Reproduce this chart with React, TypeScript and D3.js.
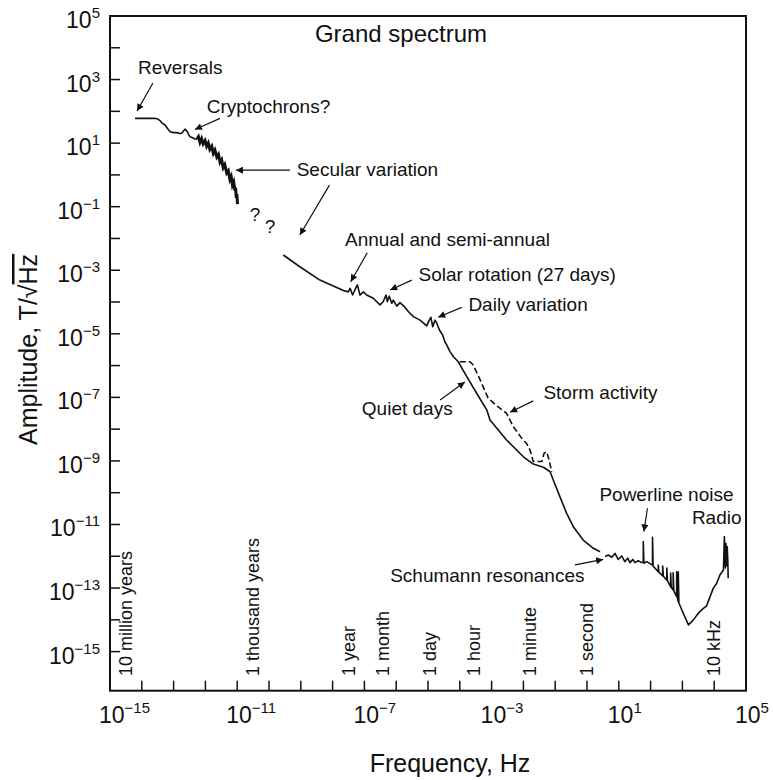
import React from "react";
import * as d3 from "d3";

// ---- data: [log10 frequency (Hz), log10 amplitude (T/sqrt(Hz))] ----
const paleoThin: [number, number][] = [
  [-14.21, 1.78], [-13.59, 1.78], [-13.5, 1.76], [-13.43, 1.71], [-13.35, 1.62], [-13.27, 1.57],
  [-13.19, 1.46], [-13.11, 1.36], [-13.0, 1.33], [-12.9, 1.33], [-12.8, 1.3], [-12.75, 1.31],
  [-12.69, 1.38], [-12.64, 1.44], [-12.6, 1.4], [-12.57, 1.36], [-12.52, 1.26], [-12.48, 1.2],
  [-12.4, 1.17], [-12.33, 1.13], [-12.27, 1.12],
];
const secularThick: [number, number][] = [
  [-12.27, 1.12], [-12.22, 1.2], [-12.17, 1.02], [-12.12, 1.14], [-12.07, 0.98], [-12.01, 1.08],
  [-11.96, 0.9], [-11.91, 1.0], [-11.86, 0.8], [-11.8, 0.9], [-11.75, 0.68], [-11.7, 0.78],
  [-11.64, 0.56], [-11.59, 0.64], [-11.54, 0.4], [-11.49, 0.48], [-11.44, 0.23], [-11.39, 0.32],
  [-11.33, 0.06], [-11.28, 0.13], [-11.23, -0.14], [-11.19, -0.05], [-11.15, -0.32], [-11.11, -0.22],
  [-11.07, -0.5], [-11.05, -0.4], [-11.03, -0.72], [-11.01, -0.6], [-10.99, -0.92],
];
const observatory: [number, number][] = [
  [-9.55, -2.52], [-9.03, -2.89], [-8.4, -3.31], [-7.66, -3.64], [-7.51, -3.68], [-7.45, -3.57],
  [-7.37, -3.78], [-7.3, -3.62], [-7.22, -3.46], [-7.14, -3.78], [-7.03, -3.68], [-6.93, -3.78],
  [-6.72, -3.88], [-6.51, -4.09], [-6.41, -3.99], [-6.32, -3.78], [-6.28, -3.99], [-6.22, -3.81],
  [-6.14, -4.04], [-6.09, -3.94], [-5.98, -4.13], [-5.88, -4.02], [-5.72, -4.17], [-5.62, -4.3],
  [-5.46, -4.46], [-5.25, -4.57], [-5.04, -4.75], [-4.96, -4.57], [-4.91, -4.48], [-4.85, -4.78],
  [-4.78, -4.57], [-4.73, -4.65], [-4.64, -4.88], [-4.54, -5.04], [-4.47, -5.25], [-4.41, -5.35],
  [-4.31, -5.56], [-4.2, -5.72], [-4.05, -5.88], [-3.78, -6.35], [-3.47, -6.87], [-3.15, -7.4],
  [-3.05, -7.71], [-2.53, -8.34], [-2.0, -8.87], [-1.69, -9.1], [-1.37, -9.2], [-1.16, -9.34],
  [-1.06, -9.6], [-0.85, -10.13], [-0.64, -10.65], [-0.43, -11.07], [-0.12, -11.49], [0.2, -11.75],
  [0.41, -11.86],
];
const storm: [number, number][] = [
  [-4.0, -5.88], [-3.68, -5.88], [-3.58, -5.98], [-3.36, -6.45], [-3.11, -7.02], [-2.83, -7.27],
  [-2.53, -7.5], [-2.32, -7.92], [-2.05, -8.29], [-1.9, -8.45], [-1.79, -8.66], [-1.69, -9.02],
  [-1.42, -9.02], [-1.35, -8.76], [-1.27, -8.71], [-1.19, -8.97], [-1.11, -9.34],
];
const highFreq: [number, number][] = [
  [0.57, -12.01], [0.67, -11.96], [0.78, -12.03], [0.88, -11.91], [0.98, -12.1], [1.09, -11.99],
  [1.19, -12.17], [1.28, -12.06], [1.35, -12.2], [1.44, -12.1], [1.51, -12.2], [1.61, -12.14],
  [1.72, -12.2], [1.77, -12.18], [1.77, -11.54], [1.79, -12.22], [1.88, -12.17], [1.98, -12.23],
  [2.06, -12.28], [2.06, -11.4], [2.08, -12.31], [2.16, -12.4], [2.24, -12.49], [2.24, -12.28],
  [2.26, -12.5], [2.3, -12.54], [2.38, -12.62], [2.38, -12.31], [2.4, -12.63], [2.51, -12.75],
  [2.51, -12.37], [2.53, -12.77], [2.63, -12.96], [2.63, -12.53], [2.65, -12.98], [2.71, -13.06],
  [2.71, -12.52], [2.73, -13.09], [2.82, -13.27], [2.82, -12.49], [2.84, -13.3], [2.87, -13.43],
  [2.87, -12.49], [2.89, -13.47], [3.03, -13.8], [3.19, -14.16], [3.34, -14.01], [3.45, -13.86],
  [3.55, -13.74], [3.66, -13.64], [3.76, -13.56], [3.87, -13.27], [3.97, -13.01], [4.08, -12.85],
  [4.18, -12.59], [4.29, -12.43], [4.32, -11.38], [4.35, -12.37], [4.37, -11.6], [4.39, -12.3],
  [4.41, -11.7], [4.43, -12.2], [4.44, -12.69],
];

const xTickExps = d3.range(-15, 6, 1);
const xLabelExps = [-15, -11, -7, -3, 1, 5];
const yTickExps = d3.range(-15, 6, 1);
const yLabelExps = [5, 3, 1, -1, -3, -5, -7, -9, -11, -13, -15];

const periodNames = ["10 million years", "1 thousand years", "1 year", "1 month", "1 day", "1 hour", "1 minute", "1 second", "10 kHz"];
const periodLogF = [-14.5, -10.5, -7.5, -6.41, -4.94, -3.56, -1.78, 0, 4];

// annotations: text, text anchor point [logF, logA], anchor, arrows [[from],[to]]
const annotations: { text: string; at: [number, number]; anchor?: string; arrows: [number, number][][] }[] = [
  { text: "Reversals", at: [-14.12, 3.17], arrows: [[[-13.65, 2.89], [-14.15, 2.01]]] },
  { text: "Cryptochrons?", at: [-11.96, 1.95], arrows: [[[-11.54, 1.78], [-12.33, 1.43]]] },
  { text: "Secular variation", at: [-9.13, -0.03], arrows: [[[-9.34, 0.15], [-11.04, 0.15]], [[-8.1, -0.32], [-9.03, -1.89]]] },
  { text: "Annual and semi-annual", at: [-7.61, -2.24], arrows: [[[-6.91, -2.45], [-7.43, -3.36]]] },
  { text: "Solar rotation (27 days)", at: [-5.3, -3.34], arrows: [[[-5.51, -3.31], [-6.19, -3.62]]] },
  { text: "Daily variation", at: [-3.73, -4.27], arrows: [[[-3.94, -4.17], [-4.68, -4.48]]] },
  { text: "Quiet days", at: [-7.08, -7.56], arrows: [[[-4.62, -7.08], [-3.84, -6.52]]] },
  { text: "Storm activity", at: [-1.37, -7.05], arrows: [[[-1.69, -7.11], [-2.42, -7.47]]] },
  { text: "Schumann resonances", at: [-6.19, -12.81], arrows: [[[-0.38, -12.27], [0.51, -12.1]]] },
  { text: "Powerline noise", at: [0.39, -10.25], arrows: [[[1.9, -10.49], [1.79, -11.22]]] },
  { text: "Radio", at: [4.86, -10.98], anchor: "end", arrows: [] },
  { text: "?", at: [-10.44, -1.45], anchor: "middle", arrows: [] },
  { text: "?", at: [-9.97, -1.83], anchor: "middle", arrows: [] },
];

const FONT = "'Liberation Sans', Arial, Helvetica, sans-serif";

export default function App() {
  const W = 773, H = 780;
  const left = 110, right = 746, top = 16, bottom = 690.7;
  const x = d3.scaleLog().domain([1e-15, 1e5]).range([left, right]);
  const y = d3.scaleLog().domain([Math.pow(10, -16.23), 1e5]).range([bottom, top]);
  const px = (lf: number) => x(Math.pow(10, lf));
  const py = (la: number) => y(Math.pow(10, la));
  const line = d3.line<[number, number]>().x((d) => px(d[0])).y((d) => py(d[1]));

  return (
    <svg width={W} height={H} style={{ position: "absolute", left: 0, top: 0, background: "#fff" }} fontFamily={FONT}>
      <defs>
        <marker id="ah" viewBox="0 0 10 10" refX="10" refY="5" markerWidth="9" markerHeight="7" markerUnits="userSpaceOnUse" orient="auto">
          <path d="M0,0 L10,5 L0,10 z" fill="#111" />
        </marker>
      </defs>
      {/* ticks */}
      {xTickExps.map((e) => (
        <line key={"xt" + e} x1={px(e)} x2={px(e)} y1={bottom} y2={bottom - 10} stroke="#111" strokeWidth={1.5} />
      ))}
      {yTickExps.map((e) => (
        <line key={"yt" + e} x1={left} x2={left + 10} y1={py(e)} y2={py(e)} stroke="#111" strokeWidth={1.5} />
      ))}
      <rect x={left} y={top} width={right - left} height={bottom - top} fill="none" stroke="#111" strokeWidth={2} />
      {/* tick labels */}
      {xLabelExps.map((e) => (
        <text key={"xl" + e} x={px(e) - 11} y={723} fontSize={23} fill="#111">
          10<tspan fontSize={15} dy={-10}>{e < 0 ? "\u2212" + -e : e}</tspan>
        </text>
      ))}
      {yLabelExps.map((e) => (
        <text key={"yl" + e} x={100} y={py(e) + 12} fontSize={23} fill="#111" textAnchor="end">
          10<tspan fontSize={15} dy={-10}>{e < 0 ? "\u2212" + -e : e}</tspan>
        </text>
      ))}
      {/* axis titles */}
      <text x={450} y={772} fontSize={25} textAnchor="middle" fill="#111">Frequency, Hz</text>
      <text transform={`translate(37,445) rotate(-90)`} fontSize={25} fill="#111">
        Amplitude, T/{"\u221A"}<tspan textDecoration="overline" style={{ textDecoration: "overline" }}>Hz</tspan>
      </text>
      <text x={401} y={42} fontSize={24} textAnchor="middle" fill="#111">Grand spectrum</text>
      {/* period labels */}
      {periodNames.map((n, i) => (
        <text key={n} transform={`translate(${px(periodLogF[i])},676) rotate(-90)`} fontSize={18} dominantBaseline="central" fill="#111">
          {n}
        </text>
      ))}
      {/* curves */}
      <path d={line(paleoThin) || ""} fill="none" stroke="#111" strokeWidth={1.6} strokeLinejoin="round" />
      <path d={line(secularThick) || ""} fill="none" stroke="#111" strokeWidth={3} strokeLinejoin="miter" />
      <path d={line(observatory) || ""} fill="none" stroke="#111" strokeWidth={1.6} strokeLinejoin="round" />
      <path d={line(storm) || ""} fill="none" stroke="#111" strokeWidth={1.6} strokeDasharray="6,3" />
      <path d={line(highFreq) || ""} fill="none" stroke="#111" strokeWidth={1.6} strokeLinejoin="round" />
      {/* annotations */}
      {annotations.map((a, i) => (
        <g key={"an" + i}>
          <text x={px(a.at[0])} y={py(a.at[1])} fontSize={19} textAnchor={a.anchor || "start"} fill="#111">{a.text}</text>
          {a.arrows.map((ar, j) => (
            <line key={j} x1={px(ar[0][0])} y1={py(ar[0][1])} x2={px(ar[1][0])} y2={py(ar[1][1])} stroke="#111" strokeWidth={1.2} markerEnd="url(#ah)" />
          ))}
        </g>
      ))}
    </svg>
  );
}
